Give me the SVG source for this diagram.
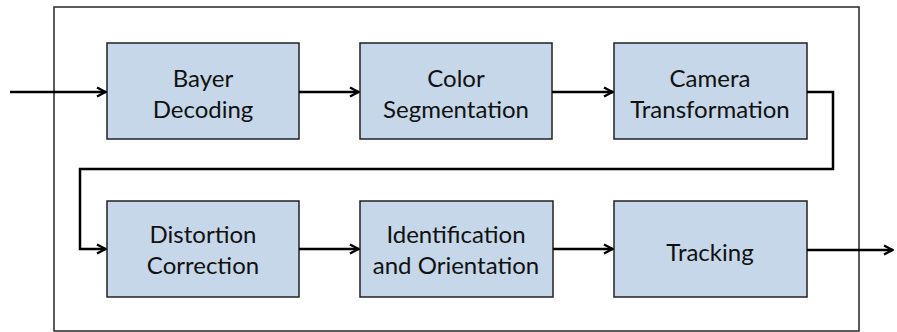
<svg xmlns="http://www.w3.org/2000/svg" width="897" height="332" viewBox="0 0 897 332">
<style>
.frame{fill:#fff;stroke:#333;stroke-width:1.6}
.box{fill:#c5d7e8;stroke:#222;stroke-width:1.5}
.lbl{font-family:Lato,"Open Sans","Liberation Sans",sans-serif;font-size:24px;fill:#111;text-anchor:middle}
.wire{fill:none;stroke:#000;stroke-width:2.5;marker-end:url(#arr)}
</style>
<defs>
<marker id="arr" viewBox="0 0 12 12" refX="11" refY="6" markerWidth="12" markerHeight="12" markerUnits="userSpaceOnUse" orient="auto">
<path d="M2,1.5 L10.5,6 L2,10.5" fill="none" stroke="#000" stroke-width="2.5"/>
</marker>
</defs>
<rect class="frame" x="54" y="7" width="805" height="324"/>
<g id="bayer"><rect class="box" x="107" y="43" width="192" height="96"/><text class="lbl" x="203" y="87">Bayer</text><text class="lbl" x="203" y="118">Decoding</text></g>
<g id="color"><rect class="box" x="360" y="43" width="192" height="96"/><text class="lbl" x="456" y="87">Color</text><text class="lbl" x="456" y="118">Segmentation</text></g>
<g id="camera"><rect class="box" x="614" y="43" width="193" height="96"/><text class="lbl" x="710" y="87">Camera</text><text class="lbl" x="710" y="118">Transformation</text></g>
<g id="distortion"><rect class="box" x="107" y="201" width="192" height="96"/><text class="lbl" x="203" y="243">Distortion</text><text class="lbl" x="203" y="274">Correction</text></g>
<g id="identification"><rect class="box" x="360" y="201" width="193" height="96"/><text class="lbl" x="456" y="243">Identification</text><text class="lbl" x="456" y="274">and Orientation</text></g>
<g id="tracking"><rect class="box" x="614" y="201" width="193" height="96"/><text class="lbl" x="710" y="261">Tracking</text></g>
<g id="connectors">
<path class="wire" d="M10,92 H106"/>
<path class="wire" d="M299,92 H359"/>
<path class="wire" d="M552,92 H613"/>
<path class="wire" d="M807,92 H833 V169 H80 V249 H106"/>
<path class="wire" d="M299,249 H359"/>
<path class="wire" d="M553,249 H613"/>
<path class="wire" d="M807,250 H893"/>
</g>
</svg>
